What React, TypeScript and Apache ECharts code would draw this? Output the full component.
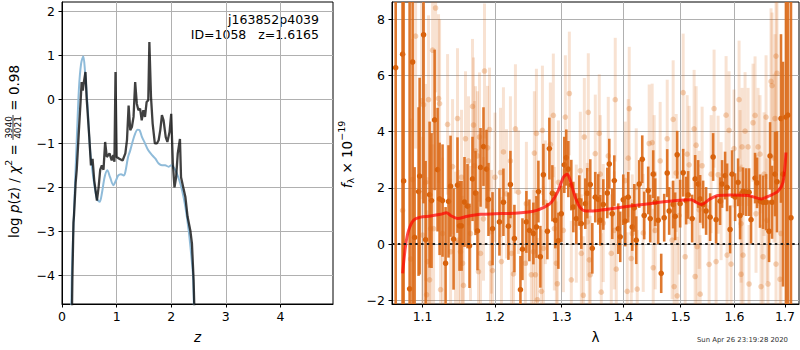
import { useEffect, useRef } from 'react';
import * as echarts from 'echarts';

// ---------- Left panel: log p(z) ----------
const zTicks = [0, 1, 2, 3, 4];
const pzTicks = [-4, -3, -2, -1, 0, 1, 2];
const pzBlue: [number, number][] = [
  [0.16, -6], [0.18, -4.0], [0.22, -2.55], [0.27, -0.93], [0.31, 0.24], [0.35, 0.81], [0.39, 0.98],
  [0.42, 0.66], [0.47, -0.17], [0.51, -1.08], [0.58, -1.84], [0.64, -2.26], [0.69, -2.33], [0.73, -2.14],
  [0.78, -1.77], [0.83, -1.61], [0.88, -1.77], [0.94, -1.95], [0.99, -1.84], [1.03, -1.73], [1.08, -1.7],
  [1.13, -1.73], [1.16, -1.65], [1.21, -1.31], [1.25, -1.16], [1.30, -0.93], [1.34, -0.78], [1.38, -0.69],
  [1.42, -0.7], [1.46, -0.84], [1.52, -1.0], [1.58, -1.16], [1.65, -1.27], [1.71, -1.35], [1.77, -1.46],
  [1.83, -1.5], [1.89, -1.5], [1.95, -1.53], [2.00, -1.5], [2.06, -1.57], [2.13, -1.77], [2.20, -2.07],
  [2.26, -2.45], [2.32, -2.98], [2.37, -3.58], [2.40, -4.03], [2.43, -5.5],
];
const pzBlack: [number, number][] = [
  [0.17, -6.0], [0.19, -4.1], [0.21, -2.8], [0.22, -2.64], [0.25, -1.9], [0.27, -1.6], [0.31, -0.7],
  [0.34, -0.06], [0.36, 0.39], [0.38, 0.2], [0.40, 0.39], [0.43, 0.62], [0.45, 0.05], [0.50, -0.86],
  [0.53, -1.5], [0.56, -1.35], [0.59, -1.84], [0.64, -2.3], [0.67, -2.0], [0.70, -1.6], [0.73, -1.5],
  [0.76, -1.6], [0.79, -0.97], [0.82, -1.31], [0.87, -1.23], [0.91, -1.39], [0.94, -1.27], [0.96, -1.42],
  [0.98, 0.62], [1.00, -1.31], [1.05, -1.35], [1.11, -1.39], [1.16, -1.23], [1.19, -0.93], [1.22, -0.14],
  [1.25, -0.7], [1.28, -0.63], [1.31, -0.4], [1.34, 0.39], [1.37, -0.1], [1.40, -0.25], [1.43, -0.21],
  [1.46, -0.48], [1.49, -0.25], [1.52, -0.4], [1.55, -0.06], [1.58, -0.02], [1.60, 1.30], [1.63, 0.05],
  [1.66, -0.55], [1.70, -1.0], [1.74, -1.0], [1.77, -0.93], [1.80, -0.7], [1.83, -0.36], [1.86, -0.48],
  [1.90, -0.86], [1.93, -0.97], [1.97, -0.74], [2.00, -0.33], [2.03, -1.46], [2.06, -2.0], [2.09, -1.77],
  [2.12, -1.23], [2.16, -0.9], [2.18, -1.77], [2.22, -2.0], [2.26, -2.22], [2.30, -2.67], [2.35, -2.98],
  [2.38, -3.28], [2.41, -4.1], [2.44, -5.5],
];

// ---------- Right panel: spectrum ----------
const lamTicks = [1.1, 1.2, 1.3, 1.4, 1.5, 1.6, 1.7];
const fluxTicks = [-2, 0, 2, 4, 6, 8];
// [lambda (um), flux, error]
const specDark: [number, number, number][] = [
  [1.0650, 6.28, 30], [1.0739, 6.76, 30], [1.0752, 2.25, 30], [1.0830, -1.59, 20], [1.0869, 6.48, 20],
  [1.0895, 0.24, 2.5], [1.0947, 1.87, 3.0], [1.0961, 2.42, 3.5], [1.1013, 7.45, 6], [1.1040, 0.16, 2.8],
  [1.1093, 1.76, 2.6], [1.1119, 1.55, 2.4], [1.1160, 4.42, 2.5], [1.1200, 2.65, 2.2], [1.1227, 1.61, 2.0],
  [1.1267, 1.55, 2.0], [1.1308, -0.68, 2.0], [1.1348, 1.52, 2.0], [1.1376, 2.06, 1.8], [1.1417, 0.18, 1.8],
  [1.1471, 2.10, 1.7], [1.1499, 0.65, 1.6], [1.1527, 0.65, 1.6], [1.1568, 1.50, 1.6], [1.1610, 1.35, 1.5],
  [1.1638, -0.06, 1.5], [1.1680, 2.32, 1.5], [1.1722, 1.82, 1.5], [1.1750, 0.47, 1.4], [1.1793, 2.73, 1.4],
  [1.1835, 3.47, 1.4], [1.1878, 2.67, 1.4], [1.1906, 1.59, 1.3], [1.1964, 0.55, 1.3], [1.2064, 0.79, 1.2],
  [1.2122, 1.49, 1.2], [1.2195, 0.64, 1.2], [1.2224, 2.12, 1.2], [1.2283, 0.20, 1.2], [1.2372, -1.62, 1.2],
  [1.2402, -0.18, 1.1], [1.2461, 0.79, 1.1], [1.2506, 0.49, 1.1], [1.2566, 0.38, 1.1], [1.2612, 0.61, 1.1],
  [1.2642, 1.87, 1.1], [1.2672, -0.45, 1.1], [1.2718, 2.47, 1.1], [1.2779, 0.46, 1.0], [1.2810, 3.40, 1.1],
  [1.2856, 1.81, 1.0], [1.2902, 0.85, 1.0], [1.2949, 0.12, 1.0], [1.2995, 1.08, 1.0], [1.3042, 2.82, 1.0],
  [1.3073, 3.08, 1.0], [1.3105, 2.67, 1.0], [1.3152, 2.10, 0.9], [1.3184, 1.32, 0.9], [1.3231, 0.91, 0.9],
  [1.3279, 1.55, 0.9], [1.3311, 0.73, 0.9], [1.3375, 1.44, 0.9], [1.3407, 1.81, 0.9], [1.3455, 2.12, 0.9],
  [1.3488, -0.15, 0.9], [1.3536, 1.67, 0.9], [1.3585, 1.59, 0.9], [1.3618, 0.85, 0.9], [1.3667, 1.41, 0.9],
  [1.3733, 1.82, 0.9], [1.3766, 2.85, 0.9], [1.3815, 1.08, 0.9], [1.3849, 2.26, 0.9], [1.3915, 0.55, 0.9],
  [1.3948, 0.26, 0.9], [1.3999, 1.58, 0.9], [1.4032, 0.82, 0.9], [1.4083, 1.67, 0.9], [1.4151, 0.61, 0.85],
  [1.4185, 1.29, 0.85], [1.4219, 0.14, 0.85], [1.4270, 2.14, 0.85], [1.4322, 3.02, 0.85], [1.4356, 1.02, 0.85],
  [1.4425, 1.91, 0.85], [1.4460, 0.91, 0.85], [1.4512, 2.49, 0.85], [1.4547, 1.49, 0.85], [1.4599, 0.85, 0.85],
  [1.4652, -1.04, 0.7], [1.4705, 0.94, 0.85], [1.4758, 2.53, 0.85], [1.4793, 1.18, 0.85], [1.4864, 1.41, 0.85],
  [1.4900, 0.99, 0.85], [1.4936, 3.18, 0.85], [1.4989, 1.44, 0.85], [1.5044, 2.54, 0.85], [1.5098, 1.55, 0.85],
  [1.5134, 1.75, 0.85], [1.5207, 0.91, 0.85], [1.5262, 2.32, 0.85], [1.5317, 2.14, 0.85], [1.5354, 1.61, 0.85],
  [1.5409, 1.41, 0.85], [1.5464, 1.18, 0.85], [1.5539, 0.96, 0.85], [1.5595, 3.10, 0.85], [1.5651, 0.87, 0.85],
  [1.5726, 1.53, 0.85], [1.5764, 2.14, 0.85], [1.5821, 2.44, 0.85], [1.5859, 2.02, 0.85], [1.5916, 0.52, 0.85],
  [1.5954, 2.49, 0.85], [1.6012, 1.67, 0.85], [1.6070, 2.20, 0.85], [1.6108, 1.02, 0.85], [1.6166, 1.88, 0.85],
  [1.6225, 1.85, 0.85], [1.6283, 1.85, 0.85], [1.6322, 0.87, 0.85], [1.6401, 2.35, 0.9], [1.6440, 2.18, 0.9],
  [1.6499, 1.53, 0.95], [1.6559, 1.49, 0.95], [1.6619, 1.49, 1.0], [1.6679, 0.46, 1.1], [1.6699, 3.14, 1.2],
  [1.6739, 1.49, 1.3], [1.6799, 2.49, 1.5], [1.6839, 2.22, 1.8], [1.6920, 4.47, 3.0], [1.6961, 2.49, 4.0],
  [1.7021, 4.52, 15], [1.7062, 4.59, 20], [1.7124, 0.94, 20],
];
const specLight: [number, number, number][] = [
  [1.0739, 1.2, 8], [1.0843, -0.53, 5], [1.0869, 2.3, 5], [1.0908, 7.4, 4], [1.0987, 5.1, 3.5],
  [1.1000, 0.32, 3.5], [1.1013, 4.96, 3.5], [1.1040, 2.2, 3.5], [1.1053, -1.8, 3], [1.1066, -0.62, 3],
  [1.1079, 5.14, 3], [1.1093, -1.27, 3], [1.1106, 0.55, 3], [1.1133, 6.9, 3], [1.1146, 0.55, 3],
  [1.1173, 8.4, 3], [1.1213, 5.18, 3], [1.1227, 5.0, 3], [1.1240, -1.62, 2.7], [1.1267, 0.38, 2.7],
  [1.1335, 4.26, 2.5], [1.1376, -0.27, 2.6], [1.1403, 2.76, 2.4], [1.1444, 0.08, 2.5], [1.1471, 4.47, 2.5],
  [1.1485, 0.14, 2.5], [1.1513, -0.27, 2.5], [1.1527, 2.38, 2.4], [1.1541, -0.68, 2.4], [1.1554, -1.47, 2.4],
  [1.1582, 3.75, 2.4], [1.1624, 2.96, 2.3], [1.1652, 0.38, 2.4], [1.1680, 4.9, 2.4], [1.1694, 4.24, 2.4],
  [1.1708, 2.79, 2.3], [1.1722, 3.32, 2.3], [1.1750, 3.14, 2.3], [1.1764, -0.98, 2.3], [1.1778, 3.81, 2.3],
  [1.1793, -0.33, 2.3], [1.1835, 0.9, 2.2], [1.1849, 6.16, 2.4], [1.1892, 3.43, 2.2], [1.1921, 4.08, 2.2],
  [1.1935, -0.68, 2.2], [1.1949, 0.44, 2.2], [1.1964, -0.94, 2.2], [1.2000, 2.38, 2.3], [1.2079, 2.55, 2.3],
  [1.2093, -0.62, 2.3], [1.2122, 3.28, 2.3], [1.2166, 1.79, 2.3], [1.2224, 2.96, 2.3], [1.2239, -0.33, 2.3],
  [1.2269, -1.06, 2.2], [1.2298, 4.1, 2.3], [1.2342, 1.85, 2.2], [1.2446, -0.68, 2.2], [1.2461, 1.44, 2.2],
  [1.2536, -1.09, 2.2], [1.2566, -0.27, 2.2], [1.2581, 3.24, 2.2], [1.2597, -1.09, 2.2], [1.2612, 3.94, 2.3],
  [1.2627, -1.98, 2.2], [1.2688, -1.68, 2.2], [1.2703, 4.05, 2.3], [1.2718, -0.15, 2.2], [1.2748, 1.49, 2.2],
  [1.2825, 3.55, 2.2], [1.2871, 4.58, 2.2], [1.2887, 0.55, 2.2], [1.2918, -0.68, 2.2], [1.2933, -1.41, 2.2],
  [1.2949, 2.2, 2.2], [1.3027, 0.49, 2.2], [1.3058, 4.52, 2.2], [1.3121, 5.36, 2.2], [1.3152, -1.27, 2.1],
  [1.3231, 0.73, 2.1], [1.3295, 2.61, 2.1], [1.3311, -0.33, 2.1], [1.3343, -1.82, 2.1], [1.3359, 3.81, 2.1],
  [1.3407, 0.79, 2.1], [1.3423, 4.69, 2.1], [1.3439, -0.56, 2.1], [1.3455, -1.09, 2.1], [1.3536, 3.22, 2.1],
  [1.3601, 3.94, 2.1], [1.3618, 2.49, 2.1], [1.3634, -1.71, 2.1], [1.3667, 0.75, 2.1], [1.3749, 3.14, 2.1],
  [1.3799, -0.33, 2.1], [1.3849, 0.49, 2.1], [1.3865, 5.14, 2.2], [1.3882, -0.89, 2.1], [1.4032, 2.26, 2.1],
  [1.4066, -1.68, 2.1], [1.4083, 3.06, 2.1], [1.4100, 4.82, 2.2], [1.4134, -0.51, 2.1], [1.4151, 0.38, 2.1],
  [1.4219, 2.02, 2.1], [1.4236, -1.6, 2.1], [1.4339, 0.40, 2.1], [1.4442, 3.58, 2.1], [1.4494, 3.61, 2.1],
  [1.4512, -0.84, 2.1], [1.4529, 2.49, 2.1], [1.4547, 0.49, 2.1], [1.4634, 2.96, 2.1], [1.4758, 3.75, 2.1],
  [1.4846, 0.14, 2.1], [1.4864, 4.44, 2.1], [1.4882, -1.51, 2.1], [1.4918, 2.53, 2.1], [1.4936, -1.84, 2.1],
  [1.4971, 1.02, 2.1], [1.5044, 5.39, 2.1], [1.5080, -0.45, 2.1], [1.5116, 3.2, 2.1], [1.5152, 2.82, 2.1],
  [1.5243, 4.1, 2.1], [1.5262, -1.15, 2.1], [1.5280, 3.52, 2.1], [1.5298, -0.09, 2.1], [1.5335, 1.22, 2.1],
  [1.5354, -1.78, 2.1], [1.5390, 2.79, 2.1], [1.5520, -0.72, 2.1], [1.5558, 2.49, 2.1], [1.5613, 4.82, 2.1],
  [1.5651, -0.62, 2.1], [1.5689, 2.47, 2.1], [1.5745, 1.53, 2.1], [1.5840, 4.59, 2.1], [1.5859, -0.39, 2.1],
  [1.5897, 4.05, 2.1], [1.5935, -0.71, 2.1], [1.5992, 3.4, 2.1], [1.6089, 5.14, 2.1], [1.6108, 2.67, 2.1],
  [1.6128, 0.73, 2.1], [1.6128, -1.07, 2.1], [1.6147, 3.46, 2.1], [1.6166, -0.39, 2.1], [1.6205, 4.02, 2.1],
  [1.6264, 3.46, 2.1], [1.6283, -1.42, 2.1], [1.6361, 4.32, 2.1], [1.6401, 4.58, 2.1], [1.6420, 1.08, 2.1],
  [1.6460, 3.46, 2.1], [1.6499, 3.2, 2.1], [1.6519, -1.51, 2.2], [1.6559, -0.45, 2.2], [1.6579, 2.49, 2.2],
  [1.6619, 4.52, 2.2], [1.6638, 0.85, 2.2], [1.6658, -1.42, 2.3], [1.6719, 5.79, 2.6], [1.6739, 5.64, 2.6],
  [1.6779, 3.06, 3], [1.6799, 4.47, 3], [1.6819, 6.69, 3.5], [1.6819, -0.71, 3], [1.6839, 6.08, 3.5],
  [1.6900, -1.25, 3.5], [1.6920, 0.38, 4],
];
const modelLine: [number, number][] = [
  [1.0739, -1.04], [1.0778, -0.04], [1.0817, 0.49], [1.0882, 0.85], [1.0974, 0.96], [1.1106, 1.0],
  [1.1240, 1.06], [1.1321, 1.12], [1.1376, 1.02], [1.1471, 0.91], [1.1610, 0.99], [1.1793, 1.06],
  [1.2000, 1.08], [1.2269, 1.1], [1.2566, 1.17], [1.2718, 1.3], [1.2840, 1.49], [1.2949, 1.91],
  [1.3027, 2.38], [1.3089, 2.49], [1.3136, 2.26], [1.3215, 1.67], [1.3296, 1.29], [1.3391, 1.18],
  [1.3585, 1.2], [1.4000, 1.32], [1.4442, 1.44], [1.4918, 1.55], [1.5190, 1.58], [1.5280, 1.49],
  [1.5372, 1.41], [1.5539, 1.61], [1.5689, 1.73], [1.5935, 1.75], [1.6264, 1.73], [1.6519, 1.61],
  [1.6699, 1.73], [1.6859, 1.88], [1.6961, 2.2], [1.7021, 3.26],
];

const FONT = 'DejaVu Sans';
const L_XMAX = 4.963, L_YMIN = -4.65, L_YMAX = 2.21;
const R_XMIN = 1.0603, R_XMAX = 1.729, R_YMIN = -2.13, R_YMAX = 8.615;
const minus = (v: number) => String(v).replace('-', '\u2212');

function measure(t: string, size: number, italic = false) {
  const ctx = document.createElement('canvas').getContext('2d')!;
  ctx.font = `${italic ? 'italic ' : ''}${size}px "${FONT}"`;
  return ctx.measureText(t).width;
}

type Piece = { t: string; size: number; italic?: boolean; dy: number };
function rotatedLabel(pieces: (Piece | { frac: [string, string]; size: number })[], cx: number, cy: number) {
  const children: any[] = [];
  let pos = 0;
  for (const p of pieces) {
    if ('frac' in p) {
      const w = Math.max(measure(p.frac[0], p.size), measure(p.frac[1], p.size)) + 2;
      children.push({ type: 'text', x: pos + w / 2, y: -4.6, style: { text: p.frac[0], fontSize: p.size, fontFamily: FONT, fill: '#000', align: 'center', verticalAlign: 'middle', textAlign: 'center', textVerticalAlign: 'middle' } });
      children.push({ type: 'text', x: pos + w / 2, y: 4.4, style: { text: p.frac[1], fontSize: p.size, fontFamily: FONT, fill: '#000', align: 'center', verticalAlign: 'middle', textAlign: 'center', textVerticalAlign: 'middle' } });
      children.push({ type: 'line', shape: { x1: pos, y1: -0.5, x2: pos + w, y2: -0.5 }, style: { stroke: '#000', lineWidth: 0.8 } });
      pos += w;
    } else {
      const w = measure(p.t, p.size, p.italic);
      children.push({ type: 'text', x: pos, y: p.dy, style: { text: p.t, fontSize: p.size, fontStyle: p.italic ? 'italic' : 'normal', fontFamily: FONT, fill: '#000', align: 'left', verticalAlign: 'middle', textAlign: 'left', textVerticalAlign: 'middle' } });
      pos += w;
    }
  }
  return { type: 'group', x: cx, y: cy + pos / 2, rotation: Math.PI / 2, children };
}

function errSeries(data: [number, number, number][], barColor: string, dotColor: string, z: number, bw: number) {
  return {
    type: 'custom', xAxisIndex: 1, yAxisIndex: 1, z, clip: true,
    dimensions: ['x', 'y', 'e'],
    encode: { x: 0, y: 1 },
    data: data.map(([l, f, e]) => [Math.log10(l), f, e]),
    renderItem: (_p: any, api: any) => {
      const x = api.value(0), y = api.value(1), e = api.value(2);
      const a = api.coord([x, Math.min(y + e, R_YMAX)]);
      const b = api.coord([x, Math.max(y - e, R_YMIN)]);
      const c = api.coord([x, y]);
      return {
        type: 'group', children: [
          { type: 'line', shape: { x1: a[0], y1: a[1], x2: b[0], y2: b[1] }, style: { stroke: barColor, lineWidth: bw } },
          { type: 'circle', shape: { cx: c[0], cy: c[1], r: 2.8 }, style: { fill: dotColor } },
        ],
      };
    },
  };
}

export default function App() {
  const ref = useRef<HTMLDivElement>(null);
  useEffect(() => {
    if (!ref.current) return;
    const chart = echarts.init(ref.current, undefined, { renderer: 'svg' });
    const axisCommon = {
      axisLine: { show: true, onZero: false, lineStyle: { color: '#000', width: 1 } },
      splitLine: { show: true, lineStyle: { color: '#b0b0b0', width: 1 } },
    };
    const labelStyle = { color: '#000', fontSize: 12.5, fontFamily: FONT };
    const lg = (v: number) => Math.log10(v);
    const option: any = {
      animation: false,
      grid: [
        { left: 62, top: 2, width: 271, height: 302, show: true, borderColor: '#000', borderWidth: 1 },
        { left: 392, top: 2, width: 407, height: 302, show: true, borderColor: '#000', borderWidth: 1 },
      ],
      xAxis: [
        {
          gridIndex: 0, type: 'value', min: 0, max: L_XMAX, ...axisCommon,
          axisTick: { show: true, length: 3.5, customValues: zTicks, lineStyle: { color: '#000' } },
          axisLabel: { ...labelStyle, margin: 6, customValues: zTicks, formatter: (v: number) => minus(v) },
          name: 'z', nameLocation: 'middle', nameGap: 26,
          nameTextStyle: { fontStyle: 'italic', fontSize: 13.5, color: '#000', fontFamily: FONT },
        },
        {
          gridIndex: 1, type: 'value', min: lg(R_XMIN), max: lg(R_XMAX), ...axisCommon,
          axisTick: { show: true, length: 3.5, customValues: lamTicks.map(lg), lineStyle: { color: '#000' } },
          axisLabel: { ...labelStyle, margin: 6, customValues: lamTicks.map(lg), formatter: (v: number) => Math.pow(10, v).toFixed(1) },
          name: 'λ', nameLocation: 'middle', nameGap: 26,
          nameTextStyle: { fontSize: 13.5, color: '#000', fontFamily: FONT },
        },
      ],
      yAxis: [
        {
          gridIndex: 0, type: 'value', min: L_YMIN, max: L_YMAX, ...axisCommon,
          axisTick: { show: true, length: 3.5, customValues: pzTicks, lineStyle: { color: '#000' } },
          axisLabel: { ...labelStyle, margin: 7, customValues: pzTicks, formatter: (v: number) => minus(v) },
        },
        {
          gridIndex: 1, type: 'value', min: R_YMIN, max: R_YMAX, ...axisCommon,
          axisTick: { show: true, length: 3.5, customValues: fluxTicks, lineStyle: { color: '#000' } },
          axisLabel: { ...labelStyle, margin: 7, customValues: fluxTicks, formatter: (v: number) => minus(v) },
        },
      ],
      series: [
        {
          type: 'line', xAxisIndex: 0, yAxisIndex: 0, data: pzBlue, showSymbol: false, smooth: 0.3, z: 2,
          lineStyle: { color: '#8fbbd9', width: 2 }, clip: true,
        },
        {
          type: 'line', xAxisIndex: 0, yAxisIndex: 0, data: pzBlack, showSymbol: false, z: 3,
          lineStyle: { color: 'rgba(0,0,0,0.75)', width: 2.3 }, clip: true,
        },
        errSeries(specLight, 'rgba(220,108,28,0.2)', 'rgba(220,108,28,0.3)', 2, 3),
        errSeries(specDark, 'rgba(220,106,24,0.9)', '#d8620c', 3, 2.6),
        {
          type: 'line', xAxisIndex: 1, yAxisIndex: 1, data: modelLine.map(([l, f]) => [lg(l), f]),
          showSymbol: false, smooth: 0.3, z: 4, clip: true,
          lineStyle: { color: 'rgba(255,0,0,0.7)', width: 3 },
          markLine: {
            silent: true, symbol: ['none', 'none'], label: { show: false },
            lineStyle: { type: [2.5, 3.3], color: '#1a1a1a', width: 2 },
            data: [{ yAxis: 0 }],
          },
        },
      ],
      graphic: [
        { type: 'text', x: 319, y: 19, style: { text: 'j163852p4039', fontSize: 12.5, fontFamily: FONT, fill: '#000', align: 'right', verticalAlign: 'middle', textAlign: 'right', textVerticalAlign: 'middle' } },
        { type: 'text', x: 319, y: 34.5, style: { text: 'ID=1058   z=1.6165', fontSize: 12.5, fontFamily: FONT, fill: '#000', align: 'right', verticalAlign: 'middle', textAlign: 'right', textVerticalAlign: 'middle' } },
        { type: 'text', x: 788, y: 340, style: { text: 'Sun Apr 26 23:19:28 2020', fontSize: 6.9, fontFamily: FONT, fill: '#333', align: 'right', verticalAlign: 'middle', textAlign: 'right', textVerticalAlign: 'middle' } },
        rotatedLabel([
          { t: 'log ', size: 13.5, dy: 0 },
          { t: 'p', size: 13.5, italic: true, dy: 0 },
          { t: '(z) / ', size: 13.5, dy: 0 },
          { t: 'χ', size: 13.5, italic: true, dy: 0 },
          { t: '2', size: 9.5, dy: -5 },
          { t: ' = ', size: 13.5, dy: 0 },
          { frac: ['3940', '4021'], size: 9 },
          { t: ' = 0.98', size: 13.5, dy: 0 },
        ], 13.5, 151.5),
        rotatedLabel([
          { t: 'f', size: 13.5, italic: true, dy: 0 },
          { t: 'λ', size: 9.5, dy: 3.5 },
          { t: ' × 10', size: 13.5, dy: 0 },
          { t: '\u221219', size: 9.5, dy: -5.5 },
        ], 346.5, 154.5),
      ],
    };
    chart.setOption(option);
    return () => chart.dispose();
  }, []);
  return <div ref={ref} style={{ position: 'absolute', left: 0, top: 0, width: 800, height: 350 }} />;
}
